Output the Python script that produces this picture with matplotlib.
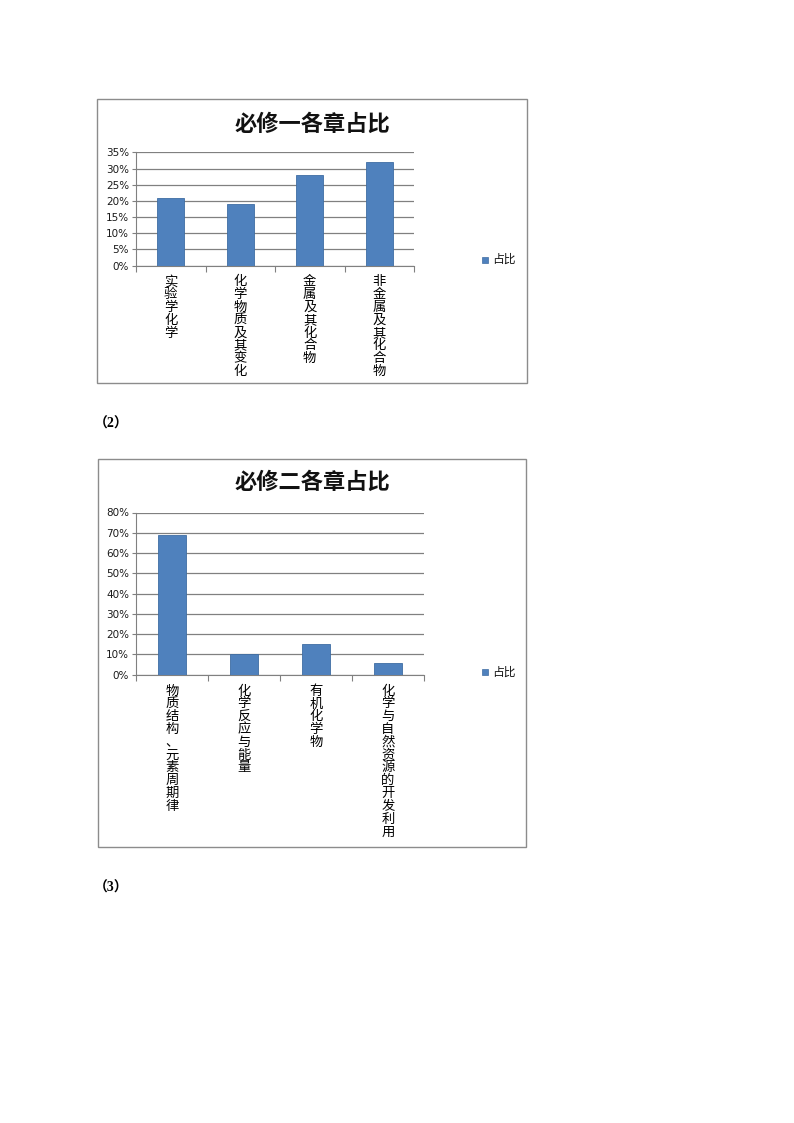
import matplotlib.pyplot as plt
from matplotlib.patches import Rectangle
from matplotlib.ticker import PercentFormatter, FixedLocator

plt.rcParams['font.family'] = ['Noto Sans CJK SC', 'DejaVu Sans']

# 必修一
titel1 = "必修一各章占比"
kapitel1 = ["实验学化学", "化学物质及其变化", "金属及其化合物", "非金属及其化合物"]
anteil1 = [21, 19, 28, 32]

# 必修二
titel2 = "必修二各章占比"
kapitel2 = ["物质结构、元素周期律", "化学反应与能量", "有机化学物", "化学与自然资源的开发利用"]
anteil2 = [69, 10, 15, 6]

serie = "占比"

W, H = 794, 1123
fig = plt.figure(figsize=(W / 100, H / 100), dpi=100)
fig.patch.set_facecolor("white")


def px_box(x0, y0, x1, y1):
    # Pixelkoordinaten (oben links) -> Figurenanteile
    return [x0 / W, 1 - y1 / H, (x1 - x0) / W, (y1 - y0) / H]


def diagramm(rahmen, achse, titel, titel_y, kategorien, werte, ymax, schritt, legende_y):
    # Rahmen um das Diagramm
    x0, y0, x1, y1 = rahmen
    fig.patches.append(Rectangle((x0 / W, 1 - y1 / H), (x1 - x0) / W, (y1 - y0) / H,
                                 transform=fig.transFigure, fill=False,
                                 edgecolor="#8c8c8c", linewidth=1.0))
    fig.text((x0 + x1) / 2 / W, 1 - titel_y / H, titel, ha="center", va="center",
             fontsize=16, fontweight="bold", color="#111111")

    ax = fig.add_axes(px_box(*achse))
    pos = list(range(len(werte)))
    ax.bar(pos, werte, width=0.39, color="#4f81bd", edgecolor="#3f6da3", linewidth=0.6, zorder=3)
    ax.set_xlim(-0.5, len(werte) - 0.5)
    ax.set_ylim(0, ymax)
    ax.yaxis.set_major_locator(FixedLocator(list(range(0, ymax + 1, schritt))))
    ax.yaxis.set_major_formatter(PercentFormatter(decimals=0))
    ax.grid(axis="y", color="#808080", linewidth=0.9, zorder=0)
    for s in ["top", "right"]:
        ax.spines[s].set_visible(False)
    ax.spines["left"].set_color("#808080")
    ax.spines["bottom"].set_color("#808080")
    ax.tick_params(axis="y", length=3, color="#808080", labelsize=7.5, pad=2, labelcolor="#1a1a1a")
    for lbl in ax.get_yticklabels():
        lbl.set_fontfamily(["DejaVu Sans"])
    # Trennstriche zwischen den Kategorien
    ax.set_xticks([p - 0.5 for p in pos] + [len(werte) - 0.5])
    ax.set_xticklabels([])
    ax.tick_params(axis="x", length=4, color="#808080")
    for p, k in zip(pos, kategorien):
        ax.text(p, -9 / (achse[3] - achse[1]) * ymax, "\n".join(k), transform=ax.transData,
                ha="center", va="top", fontsize=9.6, linespacing=0.89, color="#000000")

    # Legende
    fig.patches.append(Rectangle((482 / W, 1 - (legende_y + 3) / H), 6 / W, 6 / H,
                                 transform=fig.transFigure, facecolor="#4f81bd",
                                 edgecolor="#3f6da3", linewidth=0.5))
    fig.text(492 / W, 1 - legende_y / H, serie, ha="left", va="center", fontsize=8.5, color="#111111")
    return ax


diagramm((97, 99, 527, 383), (136, 152.5, 414, 265.5), titel1, 124.5,
         kapitel1, anteil1, 35, 5, 259.5)
diagramm((98, 459, 526, 847), (136, 512.5, 424, 674.7), titel2, 482,
         kapitel2, anteil2, 80, 10, 672)

fig.text(111 / W, 1 - 424 / H, "（2）", ha="center", va="center", fontsize=10, fontweight="bold",
         family=["Liberation Serif", "Noto Sans CJK SC"])
fig.text(111 / W, 1 - 888 / H, "（3）", ha="center", va="center", fontsize=10, fontweight="bold",
         family=["Liberation Serif", "Noto Sans CJK SC"])

fig.savefig("out.png", dpi=100)
